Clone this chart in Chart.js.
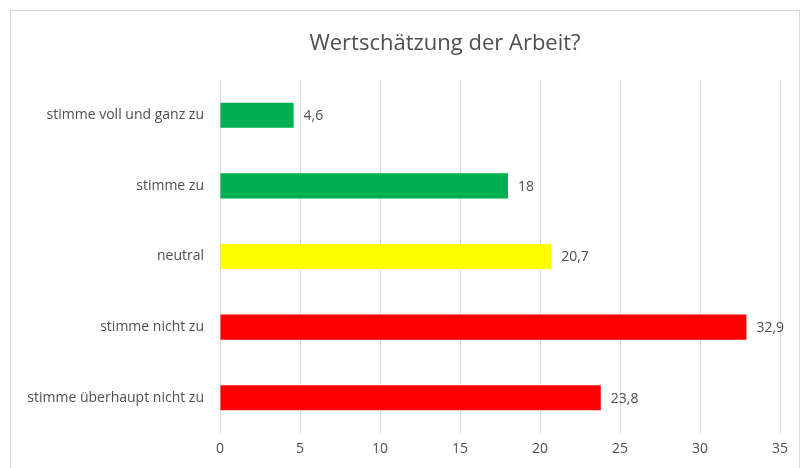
<!DOCTYPE html>
<html>
<head>
<meta charset="utf-8">
<script src="https://cdn.jsdelivr.net/npm/chart.js@4"></script>
<style>
    html, body { margin: 0; padding: 0; background: #fff; overflow: hidden; }
    #rahmen { position: absolute; left: 10px; top: 10px; width: 790px; height: 480px; border: 1px solid #d9d9d9; box-sizing: border-box; }
    #graficoBarra { position: absolute; left: 0; top: 0; }
</style>
</head>
<body>
<div id="rahmen"></div>
<canvas id="graficoBarra" width="800" height="468"></canvas>
<script>
const titel = "Wertschätzung der Arbeit?";
const kategorien = ["stimme voll und ganz zu", "stimme zu", "neutral", "stimme nicht zu", "stimme überhaupt nicht zu"];
const werte = [4.6, 18, 20.7, 32.9, 23.8];
const farben = ["#00B050", "#00B050", "#FFFF00", "#FF0000", "#FF0000"];
const achseMax = 35;
const achseSchritt = 5;

const schrift = "'Open Sans', sans-serif";
const textFarbe = "#4f4f4f";

// Titel selbst zeichnen (Excel zentriert ihn nicht über der Zeichenfläche)
const titelPlugin = {
    id: "titelPlugin",
    afterDraw(chart) {
        const ctx = chart.ctx;
        ctx.save();
        ctx.font = "22px " + schrift;
        ctx.fillStyle = textFarbe;
        ctx.textAlign = "center";
        ctx.textBaseline = "middle";
        ctx.fillText(titel, 445, 44);
        ctx.restore();
    }
};

// Werte rechts neben den Balken schreiben (mit Komma)
const werteLabels = {
    id: "werteLabels",
    afterDatasetsDraw(chart) {
        const ctx = chart.ctx;
        const meta = chart.getDatasetMeta(0);
        ctx.save();
        ctx.font = "14px " + schrift;
        ctx.fillStyle = textFarbe;
        ctx.textAlign = "left";
        ctx.textBaseline = "middle";
        meta.data.forEach((bar, i) => {
            const txt = String(werte[i]).replace(".", ",");
            ctx.fillText(txt, bar.x + 10, bar.y + 1);
        });
        ctx.restore();
    }
};

new Chart(document.getElementById("graficoBarra"), {
    type: "bar",
    data: {
        labels: kategorien,
        datasets: [{
            data: werte,
            backgroundColor: farben,
            categoryPercentage: 1,
            barPercentage: 0.355
        }]
    },
    options: {
        indexAxis: "y",
        responsive: false,
        animation: false,
        layout: { padding: { left: 0, right: 20, top: 80, bottom: 0 } },
        plugins: {
            legend: { display: false },
            tooltip: { enabled: false },
            title: { display: false }
        },
        scales: {
            x: {
                min: 0,
                max: achseMax,
                ticks: { stepSize: achseSchritt, color: textFarbe, font: { family: schrift, size: 14 }, padding: 8, maxRotation: 0 },
                grid: { color: "#d9d9d9", drawTicks: false },
                border: { display: false },
                afterFit(scale) { scale.height = 35; }
            },
            y: {
                ticks: { color: textFarbe, font: { family: schrift, size: 14 }, padding: 16 },
                grid: { display: false, drawTicks: false },
                border: { display: false },
                afterFit(scale) { scale.width = 220; }
            }
        }
    },
    plugins: [werteLabels, titelPlugin]
});
</script>
</body>
</html>
